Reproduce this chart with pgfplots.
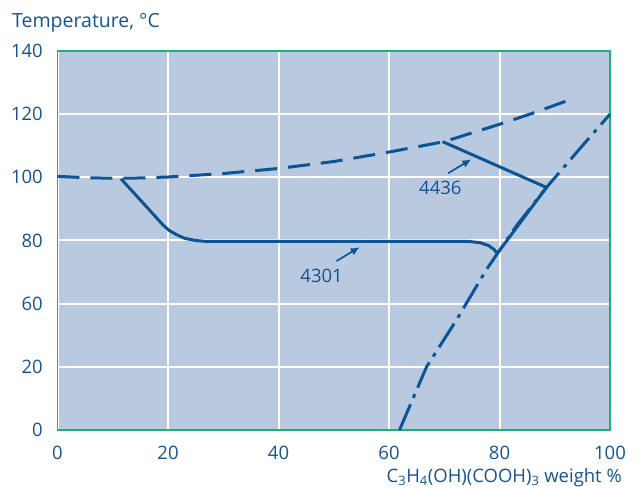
\documentclass[border=0pt]{standalone}
\usepackage{pgfplots}
\pgfplotsset{compat=1.18}
\usepackage{fontspec}
\setmainfont{Open Sans}
\usetikzlibrary{arrows.meta}
\definecolor{bgc}{HTML}{B9C9E0}
\definecolor{linec}{HTML}{0B5596}
\definecolor{txtc}{HTML}{15548F}
\definecolor{framec}{HTML}{1DB073}

\begin{document}
\fontsize{18bp}{21bp}\selectfont
\begin{tikzpicture}
\path[use as bounding box] (-57.5bp,-58bp) rectangle (585.5bp,430bp);
\begin{axis}[
  at={(0,0)}, anchor=south west, scale only axis,
  width=552.5bp, height=379bp,
  xmin=0, xmax=100, ymin=0, ymax=120,
  xtick={0,20,...,100}, ytick={0,20,...,120},
  yticklabels={0,20,60,80,100,120,140},
  axis background/.style={fill=bgc},
  axis line style={framec, line width=1.8bp},
  grid=major, major grid style={white, line width=2bp},
  tick style={draw=none},
  /pgf/number format/assume math mode=true,
  ticklabel style={font=\fontsize{18.5bp}{21bp}\selectfont, text=txtc, inner sep=0pt},
  yticklabel style={xshift=-14.5bp},
  xticklabel style={yshift=-16bp},
  clip=false,
]
% boiling curve (dashed)
\addplot[linec, line width=3bp, dash pattern=on 22bp off 11bp] coordinates {
 (0,80.3) (5,79.9) (10,79.7) (15,79.8) (20,80.1) (30,81.2) (40,82.8) (50,85.0)
 (60,88.0) (70,91.3) (80,96.8) (86,100.3) (92,104.1)};
% solubility curve (dash-dot)
\addplot[linec, line width=3bp, dash pattern=on 28bp off 7bp on 4bp off 7bp] coordinates {
 (61.9,0) (66.8,20) (72.2,34.8) (77.6,50.7) (83,64.5) (88.5,76.8) (94.6,89.2) (100,100)};
% steel grade limits (solid)
\addplot[linec, line width=3bp, line join=miter] coordinates {
 (11.5,79.5) (16.1,70.7) (19.1,64.9) (20.2,63.2) (21.5,61.9) (23,60.7) (25,60.0) (27,59.7)
 (74.5,59.7) (76.5,59.3) (78,58.4) (79,57.2) (79.6,55.9) (88.5,76.8) (69.7,91.3)};

\draw[linec, line width=1.7bp, -{Latex[length=9bp,width=8bp]}] (axis cs:50.5,53.5) -- (axis cs:54.7,57.9);
\draw[linec, line width=1.7bp, -{Latex[length=9bp,width=8bp]}] (axis cs:70.7,81.3) -- (axis cs:74.9,85.7);
\node[text=txtc, inner sep=0pt, font=\fontsize{18.5bp}{21bp}\selectfont] at (axis cs:47.8,48.8) {4301};
\node[text=txtc, inner sep=0pt, font=\fontsize{18.5bp}{21bp}\selectfont] at (axis cs:69.3,76.8) {4436};

\node[text=txtc, inner sep=0pt, anchor=base west, font=\fontsize{19.5bp}{22bp}\selectfont] at ([xshift=-45.5bp,yshift=23bp]rel axis cs:0,1) {Temperature, °C};
\node[text=txtc, inner sep=0pt, anchor=base east, font=\fontsize{18.5bp}{21bp}\selectfont] at ([xshift=12bp,yshift=-52bp]rel axis cs:1,0) {C\textsubscript{3}H\textsubscript{4}(OH)(COOH)\textsubscript{3} weight \%};
\end{axis}
\end{tikzpicture}
\end{document}
